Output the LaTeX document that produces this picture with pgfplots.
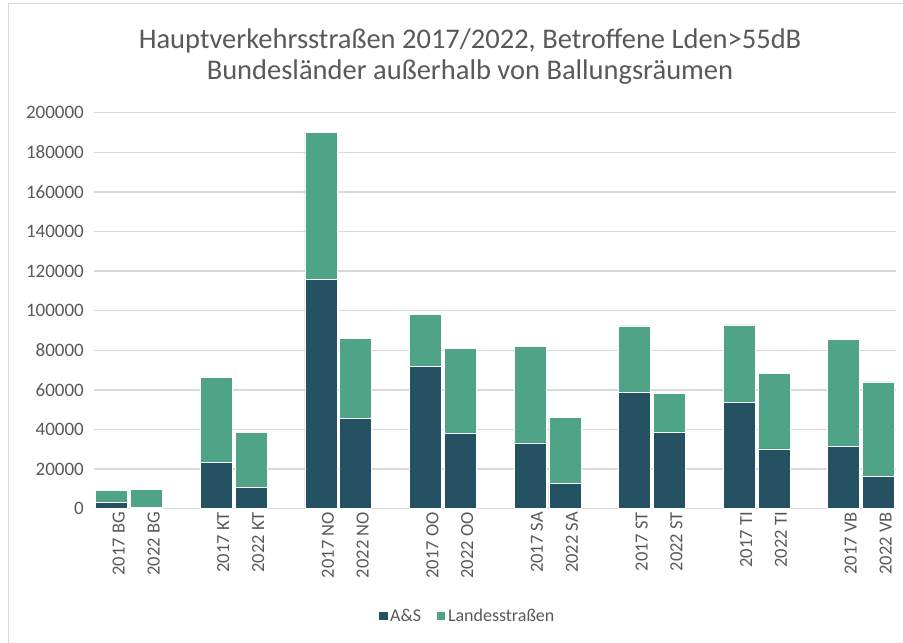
\documentclass[border=0pt]{standalone}
\usepackage{pgfplots}
\pgfplotsset{compat=1.18}
\usepackage{fontspec}
\setmainfont{Carlito}
\definecolor{dk}{RGB}{37,82,99}
\definecolor{gr}{RGB}{79,164,136}
\definecolor{tx}{RGB}{89,89,89}
\definecolor{gridc}{RGB}{217,217,217}
\begin{document}
\begin{tikzpicture}[x=1bp,y=1bp]
\useasboundingbox (0,0) rectangle (903,643);
\draw[gridc, line width=1.5bp] (8.5,-2) -- (8.5,639.5) -- (905,639.5);
\node[anchor=base, text=tx, font=\fontsize{28.5bp}{33bp}\selectfont] at (470,594.7) {Hauptverkehrsstraßen 2017/2022, Betroffene Lden>55dB};
\node[anchor=base, text=tx, font=\fontsize{28.5bp}{33bp}\selectfont] at (470,563.5) {Bundesländer außerhalb von Ballungsräumen};
\begin{axis}[at={(94.3bp,134.3bp)}, anchor=south west, scale only axis,
  width=801.7bp, height=396bp,
  ybar stacked, bar width=32bp,
  xmin=-0.5, xmax=22.5, ymin=0, ymax=200000,
  ytick={0,20000,...,200000},
  scaled y ticks=false,
  /pgf/number format/fixed, /pgf/number format/1000 sep={},
  /pgf/number format/assume math mode=true,
  xtick={0,1,3,4,6,7,9,10,12,13,15,16,18,19,21,22},
  xticklabels={2017 BG,2022 BG,2017 KT,2022 KT,2017 NO,2022 NO,2017 OO,2022 OO,2017 SA,2022 SA,2017 ST,2022 ST,2017 TI,2022 TI,2017 VB,2022 VB},
  x tick label style={rotate=90, anchor=east, text=tx, font=\fontsize{18.5bp}{21bp}\selectfont, yshift=-7bp},
  y tick label style={text=tx, font=\fontsize{19bp}{22bp}\selectfont, xshift=-7bp},
  major tick length=0pt,
  ymajorgrids, grid style={draw=gridc, line width=1.3bp},
  separate axis lines,
  axis x line*=bottom, axis y line*=left,
  y axis line style={draw=none},
  x axis line style={draw=gridc, line width=1.3bp},
  legend columns=2,
  legend style={at={(axis description cs:0.4653,-0.271)}, anchor=center, draw=none, fill=none,
    font=\fontsize{18bp}{21bp}\selectfont, text=tx,
    /tikz/every even column/.append style={column sep=13bp}},
  legend image code/.code={\fill[#1] (0bp,-4.65bp) rectangle (9.3bp,4.65bp);},
]
\addplot[fill=dk, draw=white, line width=0.6bp] coordinates {
(0,3000) (1,700) (3,23200) (4,10800) (6,115900) (7,45500) (9,71900) (10,38000)
(12,33200) (13,12800) (15,58600) (16,38600) (18,53700) (19,30200) (21,31300) (22,16200)};
\addplot[fill=gr, draw=white, line width=0.6bp] coordinates {
(0,6400) (1,9200) (3,43300) (4,27800) (6,74200) (7,40600) (9,26300) (10,43000)
(12,48800) (13,33200) (15,33700) (16,19800) (18,39100) (19,38200) (21,54300) (22,47800)};
\legend{A\&S, Landesstraßen}
\end{axis}
\end{tikzpicture}
\end{document}
